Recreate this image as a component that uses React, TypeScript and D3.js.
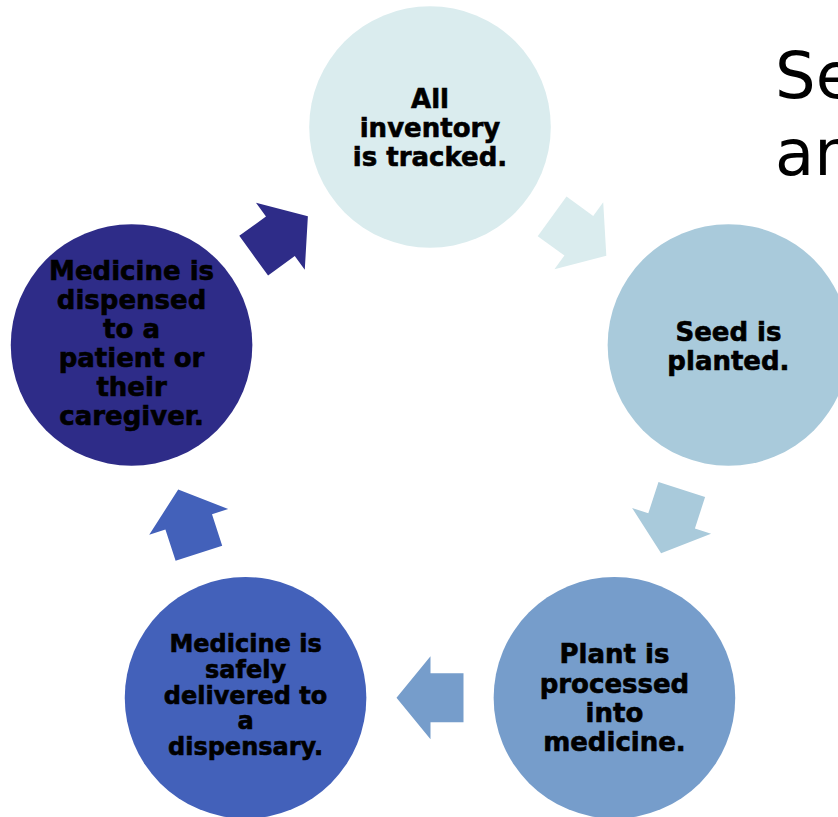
import React from "react";
import * as d3 from "d3";

const steps = ["inventory", "seed", "process", "deliver", "dispense"];
const stepLabels: string[][] = [
  ["All", "inventory", "is tracked."],
  ["Seed is", "planted."],
  ["Plant is", "processed", "into", "medicine."],
  ["Medicine is", "safely", "delivered to", "a", "dispensary."],
  ["Medicine is", "dispensed", "to a", "patient or", "their", "caregiver."],
];
const stepColors = ["#DAECEE", "#A9CADB", "#769DCB", "#4361BA", "#2E2C88"];
const labelSizes = [26, 26, 26, 24, 26];
const labelLineHeights = [29, 29, 29.3, 25.7, 29];
const labelOffsets = [10, 10.5, 9.5, 6, 7.5];
const titleLines = ["Seed-to-sale", "and"];

const W = 838;
const H = 817;
const cx = 430;
const cy = 442.5;
const ringRx = 313.8;
const ringRy = 315.5;
const nodeR = 120.8;

export default function App() {
  const angle = d3
    .scaleLinear()
    .domain([0, steps.length])
    .range([-Math.PI / 2, (3 * Math.PI) / 2]);

  const arrowLen = 67;
  const headLen = 34;
  const shaftHalf = 24.5;
  const headHalf = 41.5;
  const arrowPts: [number, number][] = [
    [-arrowLen / 2, -shaftHalf],
    [arrowLen / 2 - headLen, -shaftHalf],
    [arrowLen / 2 - headLen, -headHalf],
    [arrowLen / 2, 0],
    [arrowLen / 2 - headLen, headHalf],
    [arrowLen / 2 - headLen, shaftHalf],
    [-arrowLen / 2, shaftHalf],
  ];
  const arrowPath = d3.line()(arrowPts) + "Z";
  const chordK = Math.cos(Math.PI / steps.length);

  return (
    <svg
      width={W}
      height={H}
      style={{ position: "fixed", left: 0, top: 0, background: "#fff" }}
      fontFamily="'DejaVu Sans', Verdana, sans-serif"
    >
      {titleLines.map((t, i) => (
        <text key={t} x={775} y={98 + i * 77} fontSize={64} fill="#000">
          {t}
        </text>
      ))}
      {steps.map((s, i) => {
        const a = angle(i + 0.5);
        const x = cx + ringRx * chordK * Math.cos(a);
        const y = cy + ringRy * chordK * Math.sin(a);
        const deg = (a * 180) / Math.PI + 90;
        return (
          <path
            key={"arrow-" + s}
            d={arrowPath}
            transform={`translate(${x},${y}) rotate(${deg})`}
            fill={stepColors[i]}
          />
        );
      })}
      {steps.map((s, i) => {
        const a = angle(i);
        const x = cx + ringRx * Math.cos(a);
        const y = cy + ringRy * Math.sin(a);
        const lines = stepLabels[i];
        const fs = labelSizes[i];
        const lh = labelLineHeights[i];
        const mid = (lines.length - 1) / 2;
        return (
          <g key={"node-" + s}>
            <circle cx={x} cy={y} r={nodeR} fill={stepColors[i]} />
            {lines.map((l, j) => (
              <text
                key={j}
                x={x}
                y={y + labelOffsets[i] + (j - mid) * lh}
                textAnchor="middle"
                fontWeight="bold"
                fontSize={fs}
                fill="#000"
                stroke="#000"
                strokeWidth={0.6}
              >
                {l}
              </text>
            ))}
          </g>
        );
      })}
    </svg>
  );
}
